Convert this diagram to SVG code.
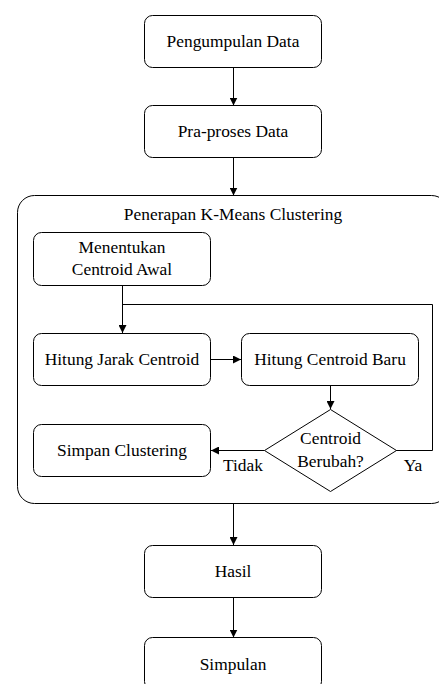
<svg xmlns="http://www.w3.org/2000/svg" width="439" height="684" viewBox="0 0 439 684">
<style>
.box{fill:#fff;stroke:#000;stroke-width:1}
.ln{fill:none;stroke:#000;stroke-width:1}
</style>
<defs>
<marker id="ah" viewBox="0 0 10 10" refX="10" refY="5" markerWidth="8" markerHeight="8" markerUnits="userSpaceOnUse" orient="auto">
<path d="M0,0 L10,5 L0,10 z" fill="#000"/>
</marker>
</defs>
<rect width="439" height="684" fill="#fff"/>
<g font-family="Liberation Serif, Tinos, Times New Roman, DejaVu Serif, serif" font-size="17.4" text-anchor="middle" fill="#000">
<g id="container">
<rect class="box" x="17.5" y="195.5" width="431" height="308" rx="17"/>
<text x="233" y="220">Penerapan K-Means Clustering</text>
</g>
<g id="connectors">
<line class="ln" x1="233.5" y1="67.5" x2="233.5" y2="105.5" marker-end="url(#ah)"/>
<line class="ln" x1="233.5" y1="157.5" x2="233.5" y2="195.5" marker-end="url(#ah)"/>
<line class="ln" x1="122.5" y1="285.5" x2="122.5" y2="333" marker-end="url(#ah)"/>
<polyline class="ln" points="396,450.5 432.5,450.5 432.5,304.5 122.5,304.5"/>
<line class="ln" x1="210.5" y1="359.5" x2="241" y2="359.5" marker-end="url(#ah)"/>
<line class="ln" x1="330.5" y1="385.5" x2="330.5" y2="409" marker-end="url(#ah)"/>
<line class="ln" x1="264.5" y1="450.5" x2="211" y2="450.5" marker-end="url(#ah)"/>
<line class="ln" x1="233.5" y1="503.5" x2="233.5" y2="545" marker-end="url(#ah)"/>
<line class="ln" x1="233.5" y1="597.5" x2="233.5" y2="637.5" marker-end="url(#ah)"/>
<text x="243" y="471">Tidak</text>
<text x="413" y="471">Ya</text>
</g>
<g id="pengumpulan">
<rect class="box" x="144.5" y="15.5" width="177" height="52" rx="8"/>
<text x="233" y="47">Pengumpulan Data</text>
</g>
<g id="praproses">
<rect class="box" x="144.5" y="105.5" width="177" height="52" rx="8"/>
<text x="233" y="137">Pra-proses Data</text>
</g>
<g id="menentukan">
<rect class="box" x="33.5" y="232.5" width="177" height="53" rx="8"/>
<text x="122" y="252.5">Menentukan</text>
<text x="122" y="274.5">Centroid Awal</text>
</g>
<g id="jarak">
<rect class="box" x="33.5" y="333.5" width="177" height="52" rx="8"/>
<text x="122" y="365">Hitung Jarak Centroid</text>
</g>
<g id="baru">
<rect class="box" x="241.5" y="333.5" width="177" height="52" rx="8"/>
<text x="330" y="365">Hitung Centroid Baru</text>
</g>
<g id="keputusan">
<polygon class="box" points="330.5,409.5 396.5,450.5 330.5,491.5 264.5,450.5"/>
<text x="330.5" y="444">Centroid</text>
<text x="330.5" y="466.5">Berubah?</text>
</g>
<g id="simpan">
<rect class="box" x="33.5" y="424.5" width="177" height="52" rx="8"/>
<text x="122" y="456">Simpan Clustering</text>
</g>
<g id="hasil">
<rect class="box" x="144.5" y="545.5" width="177" height="52" rx="8"/>
<text x="233" y="577">Hasil</text>
</g>
<g id="simpulan">
<rect class="box" x="144.5" y="637.5" width="177" height="52" rx="8"/>
<text x="233" y="670">Simpulan</text>
</g>
</g>
</svg>
